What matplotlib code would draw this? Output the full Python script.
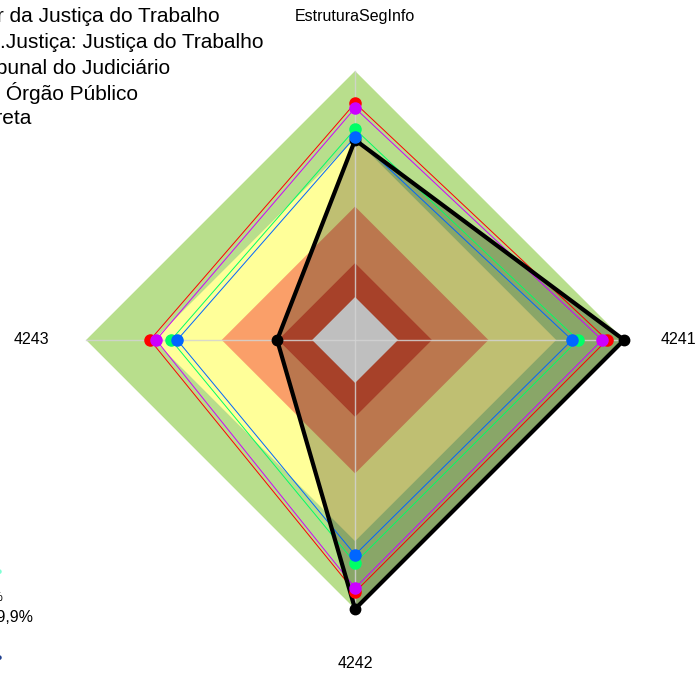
import numpy as np
import matplotlib.pyplot as plt

plt.rcParams['font.family'] = ['Liberation Sans', 'DejaVu Sans']

# eixos do radar (sentido horario a partir do topo)
categorias = ["EstruturaSegInfo", "4241", "4242", "4243"]
angulos = np.deg2rad([90, 0, -90, 180])

# valores em %
setor_jt = [85.8, 92.5, 92.5, 71.7]
seg_justica = [83.6, 90.3, 90.7, 69.0]
tribunal = [74.3, 79.6, 79.6, 62.4]
orgao = [70.8, 77.0, 76.0, 59.7]
correta = [69.5, 100.0, 100.0, 15.5]

nomes = ["Média do Setor da Justiça do Trabalho",
         "Média Seg.Justiça: Justiça do Trabalho",
         "Média Tribunal do Judiciário",
         "Média Seu Órgão Público",
         "Resposta Correta"]
cores = ['#FF0000', '#CC00FF', '#00FF66', '#0066FF', 'black']

# faixas de nivel
niveis = [0, 15, 40, 70, 100]
cores_niveis = ['#E05738', '#FA9F69', '#FFFF99', '#B8DE8C']
centro = 19   # deslocamento do centro


def xy(vals):
    r = centro + np.array(vals, dtype=float)
    x = r * np.cos(angulos)
    y = r * np.sin(angulos)
    return np.append(x, x[0]), np.append(y, y[0])


fig = plt.figure(figsize=(6.95, 6.75), dpi=100)
ax = fig.add_axes([0, 0, 1, 1])
ax.set_xlim(-157.1, 150.4)
ax.set_ylim(-148.2, 150.4)
ax.axis('off')

# fundo
for lim, cor in reversed(list(zip(niveis[1:], cores_niveis))):
    x, y = xy([lim] * 4)
    ax.fill(x, y, color=cor, lw=0, zorder=1)
x, y = xy([niveis[0]] * 4)
ax.fill(x, y, color='white', lw=0, zorder=1)

# resposta correta preenchida
x, y = xy(correta)
ax.fill(x, y, color='black', alpha=0.25, lw=0, zorder=2)

# linhas dos eixos
for a in angulos:
    ax.plot([0, (centro + 100) * np.cos(a)], [0, (centro + 100) * np.sin(a)],
            color='#d3d3d3', lw=1, alpha=0.85, zorder=3)

series = [setor_jt, seg_justica, tribunal, orgao]
for vals, cor in zip(series, cores[:4]):
    x, y = xy(vals)
    ax.plot(x, y, color=cor, lw=0.7, zorder=4)

x, y = xy(correta)
ax.plot(x, y, color='black', lw=3, zorder=5, solid_joinstyle='miter')
ax.plot(x[:-1], y[:-1], 'o', color='black', ms=7.5, zorder=6)

for vals, cor in zip(series, cores[:4]):
    x, y = xy(vals)
    ax.plot(x[:-1], y[:-1], 'o', color=cor, ms=8, zorder=7)

# rotulos dos eixos
r_lab = centro + 100 + 24
for nome, a in zip(categorias, angulos):
    ax.text(r_lab * np.cos(a), r_lab * np.sin(a), nome, ha='center',
            va='center', fontsize=11.5)

# legenda (cortada na borda esquerda, como no original)
W, H = 695, 675
fins = [220, 263, 170, 138, 31]
ys = [17, 43, 68, 93, 118]
for nome, xf, yp in zip(nomes, fins, ys):
    fig.text(xf / W, 1 - yp / H, nome, ha='right', va='center', fontsize=15)

# legenda dos niveis (tambem cortada)
fig.text(3 / W, 1 - 598 / H, "Iniciação: 15% a 39,9%", ha='right', va='center',
         fontsize=9)
fig.text(33 / W, 1 - 617 / H, "Intermediário: 40% a 69,9%", ha='right',
         va='center', fontsize=11.5)
fig.text(2 / W, 1 - 572 / H, "●", ha='right', va='center', fontsize=8,
         color='#7FFFD4')
fig.text(2 / W, 1 - 658 / H, "●", ha='right', va='center', fontsize=8,
         color='#1F3F8F')

fig.savefig('out.png', dpi=100)
